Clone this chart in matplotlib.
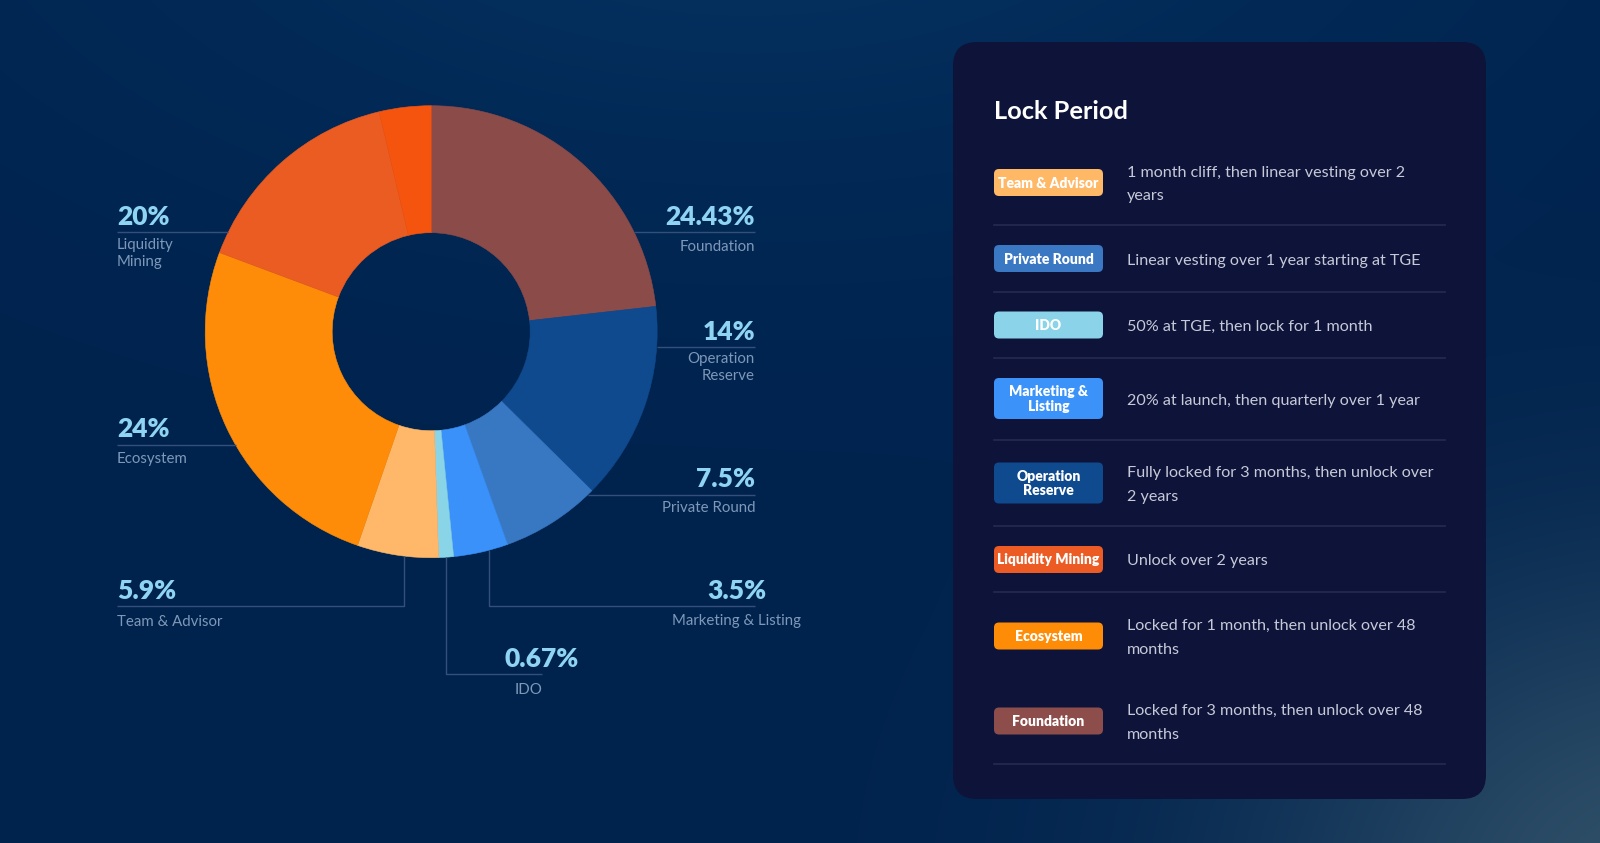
import numpy as np
import matplotlib
matplotlib.use("Agg")
import matplotlib.pyplot as plt
from matplotlib.patches import FancyBboxPatch

plt.rcParams['font.family'] = ['Lato', 'DejaVu Sans']

W, H = 1600, 843

# ring slices as drawn, clockwise from 12 o'clock (share of circle)
slice_names = ["Foundation", "Operation Reserve", "Private Round", "Marketing & Listing",
               "IDO", "Team & Advisor", "Ecosystem", "Liquidity Mining", "Liquidity Mining (top)"]
slice_shares = [23.2, 14.2, 7.1, 3.9, 1.06, 5.8, 25.4, 15.6, 3.7]
slice_colors = ["#8B4B49", "#0F4A8F", "#3878C3", "#3A91FA", "#8AD4E8",
                "#FFB86A", "#FF8C08", "#EA5C22", "#F5540F"]

# callout labels around the ring
label_pcts = ["24.43%", "14%", "7.5%", "3.5%", "0.67%", "5.9%", "24%", "20%"]
label_names = ["Foundation", "Operation\nReserve", "Private Round", "Marketing & Listing",
               "IDO", "Team & Advisor", "Ecosystem", "Liquidity\nMining"]

# lock period table
lock_badges = ["Team & Advisor", "Private Round", "IDO", "Marketing &\nListing",
               "Operation\nReserve", "Liquidity Mining", "Ecosystem", "Foundation"]
lock_colors = ["#FFB866", "#3A78C4", "#8AD3E8", "#3B93FA",
               "#0F4A8F", "#EC5B24", "#FF8C06", "#8C4D4B"]
lock_texts = ["1 month cliff, then linear vesting over 2\nyears",
              "Linear vesting over 1 year starting at TGE",
              "50% at TGE, then lock for 1 month",
              "20% at launch, then quarterly over 1 year",
              "Fully locked for 3 months, then unlock over\n2 years",
              "Unlock over 2 years",
              "Locked for 1 month, then unlock over 48\nmonths",
              "Locked for 3 months, then unlock over 48\nmonths"]

# ---- layout (pixels) ----
cx, cy, r_out, r_in = 431.2, 331.7, 226, 99

# (x, ha, pct baseline, name baseline) per callout
callout_pos = [
    (755, 'right', 225, 251),
    (755, 'right', 340, 363.5),
    (755, 'right', 486.6, 512.5),
    (737, 'center', 599, 624.5),
    (None, 'center', 667, 693.5),
    (117, 'left', 599, 625.5),
    (117, 'left', 437, 463),
    (117, 'left', 225, 249),
]
leader_lines = [
    [(634, 232), (755, 232)],
    [(657, 347), (755, 347)],
    [(588, 494.5), (755, 494.5)],
    [(489, 550), (489, 606), (755, 606)],
    [(446, 557), (446, 674.4), (542, 674.4)],
    [(403.6, 556), (403.6, 606), (117, 606)],
    [(235.5, 444.7), (117, 444.7)],
    [(228.4, 232), (117, 232)],
]

row_y = [182.5, 258.5, 325, 398.5, 483, 559.5, 636, 721]
row_sep = [225, 292, 358, 440, 526, 592, None, 764]

fig = plt.figure(figsize=(W / 100, H / 100), dpi=100)

# background gradient
yy, xx = np.mgrid[0:H, 0:W]
base = np.array([0, 35, 78]) / 255.0
bg = np.ones((H, W, 3)) * base
glow = np.exp(-(((xx - 750) / 700.0) ** 2 + ((yy + 150) / 350.0) ** 2))
bg += glow[..., None] * np.array([5, 14, 18]) / 255.0
corner = np.exp(-(((xx - 1680) / 420.0) ** 2 + ((yy - 900) / 330.0) ** 2))
bg += corner[..., None] * (np.array([48, 80, 104]) / 255.0 - base)
bg = np.clip(bg, 0, 1)
ax_bg = fig.add_axes([0, 0, 1, 1], zorder=0)
ax_bg.imshow(bg, extent=[0, W, H, 0], aspect='auto')
ax_bg.axis('off')

# donut
ax_pie = fig.add_axes([(cx - r_out) / W, (H - cy - r_out) / H, 2 * r_out / W, 2 * r_out / H], zorder=1)
wedges, _ = ax_pie.pie(slice_shares, colors=slice_colors, startangle=90, counterclock=False, radius=1,
                       wedgeprops=dict(width=(r_out - r_in) / r_out, linewidth=0.4))
for w, c in zip(wedges, slice_colors):
    w.set_edgecolor(c)
ax_pie.set_xlim(-1, 1)
ax_pie.set_ylim(-1, 1)
ax_pie.axis('off')

# overlay in pixel coordinates
ax = fig.add_axes([0, 0, 1, 1], zorder=2)
ax.set_xlim(0, W)
ax.set_ylim(H, 0)
ax.patch.set_alpha(0)
ax.axis('off')

pct_color = "#8FD4F2"
name_color = "#7F98B8"
line_color = "#34507A"

for pts in leader_lines:
    xs, ys = zip(*pts)
    ax.plot(xs, ys, color=line_color, lw=1.0, solid_capstyle='butt')

for i, (pct, name) in enumerate(zip(label_pcts, label_names)):
    x, ha, yp, yn = callout_pos[i]
    if name == "IDO":
        ax.text(542, yp, pct, ha='center', va='baseline', fontsize=19, fontweight='heavy', color=pct_color)
        ax.text(529, yn, name, ha='center', va='baseline', fontsize=10.8, color=name_color)
        continue
    ax.text(x, yp, pct, ha=ha, va='baseline', fontsize=19, fontweight='heavy', color=pct_color)
    for j, line in enumerate(name.split('\n')):
        ax.text(x, yn + j * 17, line, ha=ha, va='baseline', fontsize=10.8, color=name_color)

# lock period panel
panel = FancyBboxPatch((953, 42), 533, 757, boxstyle="round,pad=0,rounding_size=24",
                       facecolor="#0E1339", edgecolor='none')
ax.add_patch(panel)
ax.text(994, 119, "Lock Period", ha='left', va='baseline', fontsize=18.3, fontweight='bold', color='white')

for i, (badge, col, desc) in enumerate(zip(lock_badges, lock_colors, lock_texts)):
    y = row_y[i]
    blines = badge.split('\n')
    bh = 27 if len(blines) == 1 else 41
    ax.add_patch(FancyBboxPatch((994, y - bh / 2), 109, bh, boxstyle="round,pad=0,rounding_size=5",
                                facecolor=col, edgecolor='none'))
    for j, bl in enumerate(blines):
        by = y + (j - (len(blines) - 1) / 2) * 14.5 + 5.0
        ax.text(1048.5, by, bl, ha='center', va='baseline', fontsize=10, fontweight='heavy', color='white')
    dlines = desc.split('\n')
    for j, dl in enumerate(dlines):
        dy = y + (j - (len(dlines) - 1) / 2) * 23.5 + 6.0
        ax.text(1127, dy, dl, ha='left', va='baseline', fontsize=11.6, color="#C6CAD8")
    if row_sep[i] is not None:
        ax.plot([994, 1445], [row_sep[i], row_sep[i]], color="#252B52", lw=1.2)

fig.savefig("out.png", dpi=100)
